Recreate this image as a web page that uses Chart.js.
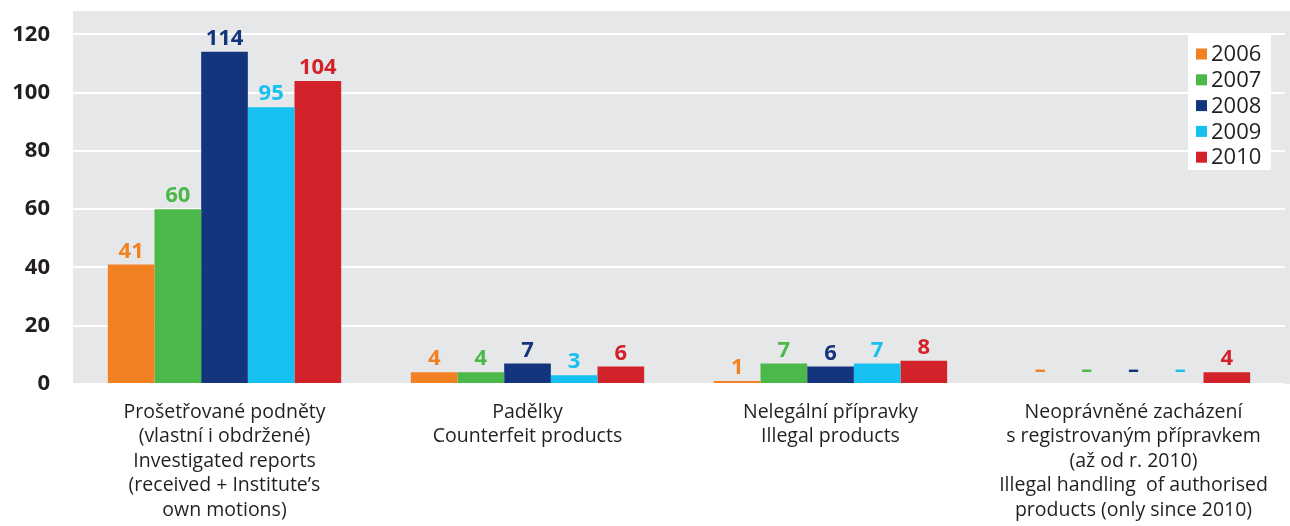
<!DOCTYPE html>
<html>
<head>
<meta charset="utf-8">
<script src="https://cdn.jsdelivr.net/npm/chart.js@4/dist/chart.umd.min.js"></script>
<style>
  html, body { margin: 0; padding: 0; background: #fff; }
  #wrap { width: 1290px; height: 526px; position: relative; }
</style>
</head>
<body>
<div id="wrap"><canvas id="myChart"></canvas></div>
<script>
const categories = [
    ['Prošetřované podněty', '(vlastní i obdržené)', 'Investigated reports', '(received + Institute\u2019s', 'own motions)'],
    ['Padělky', 'Counterfeit products'],
    ['Nelegální přípravky', 'Illegal products'],
    ['Neoprávněné zacházení', 's registrovaným přípravkem', '(až od r. 2010)', 'Illegal handling  of authorised', 'products (only since 2010)']
];
const years = ['2006', '2007', '2008', '2009', '2010'];
const colors = ['#f28123', '#4cb849', '#12357e', '#16c1f1', '#d2232a'];

// null = no data for that year (shown as a dash)
const values2006 = [41, 4, 1, null];
const values2007 = [60, 4, 7, null];
const values2008 = [114, 7, 6, null];
const values2009 = [95, 3, 7, null];
const values2010 = [104, 6, 8, 4];
const series = [values2006, values2007, values2008, values2009, values2010];

const yTicks = [0, 20, 40, 60, 80, 100, 120];

const fontFamily = '"Open Sans", "DejaVu Sans", sans-serif';

// gray plot background (runs on to the right edge of the canvas)
const plotBg = {
    id: 'plotBg',
    beforeDraw(chart) {
        const { ctx, chartArea: a } = chart;
        ctx.save();
        ctx.fillStyle = '#e6e7e8';
        ctx.fillRect(a.left, a.top, chart.width - a.left, a.bottom - a.top);
        ctx.restore();
    }
};

// numbers above the bars
const valueLabels = {
    id: 'valueLabels',
    afterDatasetsDraw(chart) {
        const ctx = chart.ctx;
        const yScale = chart.scales.y;
        ctx.save();
        ctx.font = 'bold 22px ' + fontFamily;
        ctx.textAlign = 'center';
        ctx.textBaseline = 'alphabetic';
        chart.data.datasets.forEach((ds, di) => {
            const meta = chart.getDatasetMeta(di);
            meta.data.forEach((bar, i) => {
                const v = ds.data[i];
                ctx.fillStyle = ds.backgroundColor;
                if (v === null) {
                    ctx.fillText('\u2013', bar.x, yScale.getPixelForValue(0) - 7);
                } else {
                    ctx.fillText(String(v), bar.x, yScale.getPixelForValue(v) - 7);
                }
            });
        });
        ctx.restore();
    }
};

// legend box in the top right corner of the plot
const boxLegend = {
    id: 'boxLegend',
    afterDraw(chart) {
        const ctx = chart.ctx;
        const x = 1188, y = 35, w = 83, h = 135;
        ctx.save();
        ctx.fillStyle = '#ffffff';
        ctx.fillRect(x, y, w, h);
        ctx.font = '22px ' + fontFamily;
        ctx.textBaseline = 'middle';
        chart.data.datasets.forEach((ds, i) => {
            const cy = y + 19 + i * 25.8;
            ctx.fillStyle = ds.backgroundColor;
            ctx.fillRect(x + 8, cy - 5.5, 11, 11);
            ctx.fillStyle = '#231f20';
            ctx.fillText(ds.label, x + 23, cy + 1);
        });
        ctx.restore();
    }
};

const data = {
    labels: categories,
    datasets: series.map((vals, i) => ({
        label: years[i],
        data: vals,
        backgroundColor: colors[i],
        borderWidth: 0,
        barPercentage: 1,
        categoryPercentage: 0.77
    }))
};

const config = {
    type: 'bar',
    data: data,
    options: {
        responsive: true,
        maintainAspectRatio: false,
        animation: false,
        layout: {
            padding: { top: 11, right: 5, left: 0, bottom: 0 }
        },
        scales: {
            x: {
                grid: { display: false, drawTicks: false },
                border: { display: false },
                ticks: {
                    color: '#231f20',
                    padding: 16,
                    maxRotation: 0,
                    autoSkip: false,
                    font: { family: fontFamily, size: 19.5, lineHeight: '24.5px' }
                },
                afterFit(scale) {
                    scale.height = 142;
                    scale.paddingLeft = 0;
                    scale.paddingRight = 0;
                }
            },
            y: {
                min: 0,
                max: 128,
                afterBuildTicks(scale) {
                    scale.ticks = yTicks.map(v => ({ value: v }));
                },
                grid: { color: '#ffffff', lineWidth: 2, drawTicks: false },
                border: { display: false },
                ticks: {
                    color: '#231f20',
                    padding: 23,
                    font: { family: fontFamily, size: 22, weight: 'bold' }
                },
                afterFit(scale) {
                    scale.width = 73;
                    scale.paddingTop = 0;
                    scale.paddingBottom = 0;
                }
            }
        },
        plugins: {
            legend: { display: false },
            tooltip: { enabled: false }
        }
    },
    plugins: [plotBg, valueLabels, boxLegend]
};

const myChart = new Chart(document.getElementById('myChart'), config);
</script>
</body>
</html>
